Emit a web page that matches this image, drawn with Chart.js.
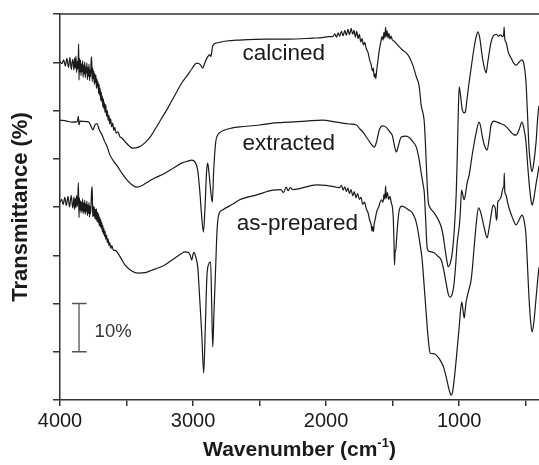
<!DOCTYPE html>
<html>
<head>
<meta charset="utf-8">
<script src="https://cdn.jsdelivr.net/npm/chart.js@4"></script>
<style>
  html, body { margin: 0; padding: 0; background: #fff; }
  canvas { display: block; }
</style>
</head>
<body>
<canvas id="ftir" width="539" height="465"></canvas>
<script>
// FTIR spectra, values (wavenumber in cm-1, transmittance in % with offsets)
calcinedWn = [4000,3985,3972,3960,3948,3936,3925,3915,3905,
  3900,3895,3890,3885,3880,3875,3870,3866,3862,3860,3857,3854,3850,3846,3842,3838,3834,3830,3826,3822,3818,3814,3810,3806,3802,3798,3794,3790,3786,3782,3778,3774,3770,3766,3762,3758,3754,3750,3746,3742,3738,3734,3730,3726,3722,3718,3714,3710,3706,3702,3698,3694,3690,3686,3682,3678,3674,3670,3666,3662,3656,3650,3644,3638,3632,3626,3620,3612,3604,3596,3588,3578,
  3565,3550,3535,3500,3452,3410,3362,3320,3288,3240,3190,3140,3085,3040,3010,2972,2945,2928,2910,2890,2875,2866,2852,2822,2750,2650,2450,2275,2100,2028,1980,
  1950,1935,1922,1910,1898,1885,1872,1860,1848,1836,1824,1812,1800,1790,1780,1770,1760,1750,1740,1730,1720,1710,1698,1685,1672,1662,1652,1645,1638,1632,1627,1620,1612,1604,1596,1588,1580,1572,1565,1558,1553,1548,1542,1535,1528,1520,1512,1502,1490,1470,1450,1428,1400,1375,1350,1322,1300,1285,1270,1262,1255,1248,1240,1232,1225,1210,1188,1160,1135,1120,1105,1092,1082,1068,1052,1035,1022,1015,1008,1000,990,978,962,955,940,925,905,888,870,858,845,828,812,798,785,760,745,738,720,705,690,675,665,662,658,648,630,610,590,572,550,528,515,498,486,475,462,452,440,422,408,400];
calcinedT = [70.1,69.7,70.5,69.2,70.8,68.9,71.0,68.5,70.6,
  69.8,68.4,70.9,68.8,71.3,67.9,70.2,68.6,71.5,73.8,66.3,70.8,68.0,70.5,67.2,69.6,68.1,70.3,66.9,69.4,67.6,70.1,66.8,69.0,67.8,69.9,66.4,68.9,67.1,69.6,66.2,68.4,67.0,70.2,71.1,66.0,68.8,66.6,68.2,65.4,67.6,65.8,67.3,64.6,66.5,64.9,66.0,63.5,65.4,63.2,64.6,62.1,63.8,61.8,63.0,60.7,62.4,60.4,61.6,59.6,61.2,58.8,60.0,57.9,59.0,57.2,58.3,56.6,57.4,55.9,56.5,55.3,
  55.6,54.6,54.3,53.2,52.2,52.4,53.3,54.6,56.0,58.2,60.5,63.0,65.7,67.4,68.6,69.8,69.5,68.8,70.0,71.1,71.6,71.2,73.4,74.0,74.4,74.6,74.8,74.8,75.0,75.1,75.3,
  75.3,75.9,75.2,76.1,75.4,76.4,75.5,76.6,75.6,76.8,75.7,77.0,75.8,76.6,75.2,76.4,74.9,75.8,74.2,74.9,73.6,74.1,72.8,72.0,70.4,69.6,68.2,68.8,66.9,67.6,66.6,68.3,70.0,71.8,73.2,74.3,75.3,74.6,76.2,75.0,77.3,75.3,76.5,75.0,76.0,74.8,75.4,74.6,74.4,73.8,73.2,72.6,72.0,71.1,69.5,67.0,64.9,61.0,59.2,57.5,54.0,49.5,44.5,41.0,40.2,39.5,38.8,37.5,35.9,34.0,31.1,28.8,27.6,28.2,30.5,36.0,42.9,49.7,58.0,64.9,63.2,60.4,59.5,59.6,62.6,65.9,69.8,73.0,75.5,76.3,75.0,71.5,69.0,67.8,70.0,74.2,75.4,75.6,75.8,75.4,75.7,75.3,75.9,77.3,75.0,74.2,72.0,70.9,69.8,69.4,70.0,70.5,69.8,65.9,59.0,52.2,48.5,47.3,49.0,53.5,59.1,61.0];

extractedWn = [4000,3950,3910,3870,3862,3857,3850,3800,3780,3765,3752,3738,3722,3705,3685,3665,3647,3625,3600,3565,3530,3497,3460,3422,3380,3340,3288,3212,3140,3085,3040,3010,2985,2965,2950,2935,2922,2910,2898,2890,2880,2866,2855,2845,2830,2815,2800,2702,2650,2500,2402,2275,2150,2028,1922,1825,1772,1750,1720,1690,1660,1638,1620,1600,1575,1548,1520,1502,1485,1472,1458,1435,1400,1375,1350,1322,1300,1285,1270,1262,1252,1240,1225,1188,1160,1135,1115,1098,1080,1068,1052,1038,1025,1015,1000,992,982,975,962,950,940,925,902,875,850,838,828,810,790,775,760,738,715,690,662,635,610,590,572,550,528,515,498,486,475,462,452,440,422,408,400];
extractedT = [58.0,57.8,57.6,57.7,58.8,57.0,57.8,57.7,57.5,56.6,56.0,57.0,57.3,56.0,55.0,53.6,52.6,50.8,49.6,48.3,46.8,45.6,44.6,44.1,44.5,45.2,46.0,47.0,48.2,49.1,49.5,49.7,49.3,47.6,43.5,38.0,34.8,40.0,47.5,49.1,47.0,43.0,41.0,47.5,53.4,54.9,55.4,56.4,56.6,57.0,57.4,57.6,57.8,58.0,57.6,57.2,57.0,56.3,55.4,54.2,53.0,52.4,53.6,56.0,56.8,56.5,55.5,54.8,52.5,51.4,52.6,54.5,54.7,54.4,53.6,52.4,49.7,47.0,44.5,42.9,37.5,31.4,30.8,30.5,29.8,29.0,26.8,24.2,21.8,21.3,22.0,24.2,28.5,32.5,35.8,38.5,43.5,42.8,41.5,43.2,45.0,46.6,50.8,55.0,57.6,56.6,54.9,52.8,51.8,54.0,57.0,57.8,57.6,57.3,57.0,56.3,55.5,55.0,54.9,56.0,57.6,56.5,53.5,49.0,45.2,41.8,40.4,41.6,44.8,47.0,48.5];

preparedWn = [4000,3988,3976,3964,3952,3940,3928,3916,3904,
  3900,3895,3890,3885,3880,3875,3870,3866,3862,3857,3854,3850,3846,3842,3838,3834,3830,3826,3822,3818,3814,3810,3806,3802,3798,3794,3790,3786,3782,3778,3774,3770,3766,3762,3758,3754,3750,3746,3742,3738,3734,3730,3726,3722,3718,3714,3710,3706,3702,3698,3694,3690,3686,3682,3678,3674,3670,3666,3662,3656,3650,3644,3638,3632,3626,3618,3610,3598,3585,
  3565,3540,3512,3470,3415,3360,3310,3260,3212,3138,3090,3062,3035,3022,3010,3000,2992,2978,2965,2950,2935,2920,2908,2896,2885,2868,2860,2852,2843,2830,2820,2808,2778,2700,2650,2522,2402,2340,2320,2300,2285,2270,2250,2200,2072,2000,1922,
  1900,1885,1872,1860,1848,1836,1825,1812,1800,1788,1776,1764,1750,1738,1725,1712,1698,1685,1672,1662,1655,1650,1645,1638,1630,1622,1605,1585,1572,1565,1558,1553,1548,1540,1530,1520,1510,1502,1495,1490,1486,1482,1476,1470,1462,1450,1430,1412,1385,1352,1330,1315,1295,1278,1260,1240,1228,1218,1195,1172,1135,1115,1098,1080,1068,1060,1050,1038,1020,1000,990,980,972,962,955,948,930,910,900,888,870,855,848,838,828,810,790,775,760,745,736,728,720,715,710,700,685,670,664,661,657,648,635,625,600,572,550,528,512,498,486,475,462,452,440,422,408,400];
preparedT = [41.0,41.6,40.5,42.0,40.3,42.2,40.0,42.4,39.8,
  40.6,42.1,39.5,41.8,39.9,42.4,40.1,41.6,45.0,37.8,41.9,39.4,41.3,38.8,41.0,39.2,41.7,38.6,40.8,39.0,41.4,38.5,40.6,39.1,41.2,38.2,40.4,38.7,40.9,37.9,40.1,38.6,41.0,43.5,44.2,38.0,40.2,38.1,40.0,37.6,39.5,37.4,39.6,37.0,38.9,36.8,38.6,36.2,37.9,35.9,37.4,35.6,36.8,34.9,36.2,34.4,35.5,33.9,35.0,33.3,34.2,32.6,33.4,32.0,32.6,31.4,32.0,31.0,31.0,
  30.4,29.3,28.0,26.9,26.3,26.4,26.9,27.4,28.0,29.4,30.3,30.7,30.6,30.0,29.0,30.2,30.6,29.4,27.6,21.0,13.9,5.6,15.0,25.5,28.0,28.6,20.0,11.0,18.0,27.6,35.0,38.3,39.4,40.6,41.5,42.5,43.5,43.6,43.0,44.1,43.4,44.0,43.6,43.8,44.6,44.5,44.1,
  44.0,44.5,43.5,44.2,43.2,43.9,42.8,43.6,42.3,43.2,41.9,42.8,41.6,42.0,40.6,41.0,39.6,38.8,37.2,36.4,35.0,36.0,34.9,36.6,37.6,38.8,40.0,41.5,41.0,42.6,41.6,44.4,41.8,43.0,41.6,42.2,40.8,40.0,37.5,33.0,28.0,30.5,31.2,33.5,36.5,39.4,40.2,40.0,39.5,38.8,37.5,35.9,32.5,29.0,22.5,15.1,11.5,9.7,9.6,9.3,7.9,6.6,4.8,2.6,1.4,1.0,1.6,4.1,9.0,15.1,18.5,20.3,18.8,17.0,18.6,20.3,22.5,24.9,27.5,31.5,37.0,39.8,39.6,38.9,37.7,35.5,33.6,35.6,38.3,40.4,40.2,39.6,37.3,38.0,41.0,41.4,42.1,43.9,44.2,47.0,43.2,42.5,40.8,39.8,37.8,36.3,37.3,38.3,37.2,34.2,27.5,21.1,16.0,14.1,15.8,21.1,25.5,27.5];

xTicks = [4000,3500,3000,2500,2000,1500,1000,500];
curveNames = ["calcined","extracted","as-prepared"];
curveNameWn = [2628,2628,2672];
curveNameT = [70.5,51.8,35.2];
barWn = 3857;          // 10% scale bar
barCapWn = [3910,3800];
barT = [10,20];

FONT = '"Liberation Sans", Arial, Helvetica, sans-serif';
INK = '#1a1a1a';
AXIS = '#333';

function pts(wn, t) {
  return wn.map(function (w, i) { return {x: w, y: t[i]}; });
}

function serie(wn, t) {
  return {
    data: pts(wn, t),
    borderColor: INK,
    borderWidth: 1.2,
    pointRadius: 0,
    fill: false,
    cubicInterpolationMode: 'monotone'
  };
}

var extras = {
  id: 'extras',
  afterDraw: function (chart) {
    var ctx = chart.ctx, a = chart.chartArea, x = chart.scales.x, y = chart.scales.y;
    ctx.save();
    // top frame line
    ctx.strokeStyle = AXIS;
    ctx.lineWidth = 1.5;
    ctx.beginPath();
    ctx.moveTo(a.left, a.top);
    ctx.lineTo(a.right, a.top);
    ctx.stroke();

    // scale bar
    var bx = x.getPixelForValue(barWn);
    var c1 = x.getPixelForValue(barCapWn[0]), c2 = x.getPixelForValue(barCapWn[1]);
    var y1 = y.getPixelForValue(barT[0]), y2 = y.getPixelForValue(barT[1]);
    ctx.strokeStyle = '#555';
    ctx.lineWidth = 1.3;
    ctx.beginPath();
    ctx.moveTo(bx, y1); ctx.lineTo(bx, y2);
    ctx.moveTo(c1, y1); ctx.lineTo(c2, y1);
    ctx.moveTo(c1, y2); ctx.lineTo(c2, y2);
    ctx.stroke();
    ctx.fillStyle = '#333';
    ctx.font = '18.5px ' + FONT;
    ctx.textBaseline = 'middle';
    ctx.textAlign = 'left';
    ctx.fillText('10%', c2 + 8, (y1 + y2) / 2 + 4);

    // curve names
    ctx.fillStyle = INK;
    ctx.font = '22.5px ' + FONT;
    ctx.textBaseline = 'alphabetic';
    for (var i = 0; i < curveNames.length; i++) {
      ctx.fillText(curveNames[i], x.getPixelForValue(curveNameWn[i]), y.getPixelForValue(curveNameT[i]));
    }

    // x axis title with superscript
    var main = 'Wavenumber (cm', sup = '-1', end = ')';
    ctx.font = 'bold 21px ' + FONT;
    var w1 = ctx.measureText(main).width, w3 = ctx.measureText(end).width;
    ctx.font = 'bold 13px ' + FONT;
    var w2 = ctx.measureText(sup).width;
    var cx = (a.left + a.right) / 2;
    var sx = cx - (w1 + w2 + w3) / 2, by = 456;
    ctx.font = 'bold 21px ' + FONT;
    ctx.fillText(main, sx, by);
    ctx.font = 'bold 13px ' + FONT;
    ctx.fillText(sup, sx + w1, by - 9);
    ctx.font = 'bold 21px ' + FONT;
    ctx.fillText(end, sx + w1 + w2, by);
    ctx.restore();
  }
};

Chart.defaults.font.family = FONT;
Chart.defaults.color = INK;

new Chart(document.getElementById('ftir').getContext('2d'), {
  type: 'line',
  data: {
    datasets: [serie(calcinedWn, calcinedT), serie(extractedWn, extractedT), serie(preparedWn, preparedT)]
  },
  options: {
    responsive: false,
    animation: false,
    layout: { padding: { top: 14, right: 0, bottom: 0, left: 0 } },
    plugins: { legend: { display: false }, tooltip: { enabled: false } },
    scales: {
      x: {
        type: 'linear',
        reverse: true,
        min: 400,
        max: 4000,
        afterBuildTicks: function (s) { s.ticks = xTicks.map(function (v) { return {value: v}; }); },
        afterFit: function (s) { s.height = 65; },
        ticks: {
          autoSkip: false,
          maxRotation: 0,
          padding: 3,
          color: INK,
          font: { size: 20 },
          callback: function (v) { return v % 1000 === 0 ? String(v) : ''; }
        },
        grid: { drawOnChartArea: false, drawTicks: true, tickLength: 6, color: AXIS, lineWidth: 1.5 },
        border: { display: true, color: AXIS, width: 1.5 }
      },
      y: {
        min: 0,
        max: 80,
        afterFit: function (s) { s.width = 60; },
        ticks: { stepSize: 10, display: false },
        grid: { drawOnChartArea: false, drawTicks: true, tickLength: 7, color: AXIS, lineWidth: 1.5 },
        border: { display: true, color: AXIS, width: 1.5 },
        title: {
          display: true,
          text: 'Transmittance (%)',
          color: INK,
          font: { size: 22, weight: 'bold' },
          padding: { top: 8, bottom: 0 }
        }
      }
    }
  },
  plugins: [extras]
});
</script>
</body>
</html>
